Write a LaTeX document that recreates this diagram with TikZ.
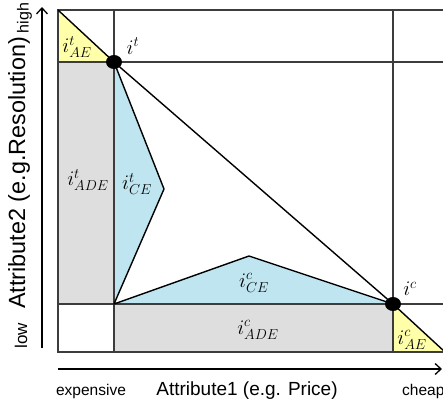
\documentclass[tikz,border=0pt]{standalone}
\usepackage{fontspec}
\setmainfont{Liberation Sans}
\usetikzlibrary{arrows.meta,shapes.geometric}
\definecolor{ylw}{RGB}{255,255,170}
\definecolor{blu}{RGB}{190,229,240}
\definecolor{gry}{RGB}{222,222,222}
\definecolor{gridc}{RGB}{60,60,60}
\begin{document}
\begin{tikzpicture}[x=1pt,y=-1pt,
  gridline/.style={draw=gridc, line width=1.1pt},
  edge/.style={draw=black, line width=1.4pt, line join=round},
  axis/.style={draw=black, line width=1.3pt, -{Straight Barb[length=6pt,width=11pt,line width=1.3pt]}},
  mlab/.style={font=\fontsize{22}{26}\selectfont, inner sep=0pt},
  dot/.style={shape=ellipse, fill=black, minimum width=16pt, minimum height=14pt, inner sep=0pt},
  smalltxt/.style={font=\fontsize{15.5}{18}\selectfont, inner sep=0pt},
  bigtxt/.style={font=\fontsize{19}{22}\selectfont, inner sep=0pt}]
\useasboundingbox (0,0) rectangle (443,399);
\clip (0,0) rectangle (443,399);
% key points
\coordinate (tl) at (58,10);
\coordinate (br) at (445,352);
\coordinate (pt) at (114,62);
\coordinate (pc) at (393,304);
\coordinate (o) at (114,304);
\coordinate (tipt) at (164,189);
\coordinate (tipc) at (249,256);
% fills
\fill[ylw] (tl) -- (58,62) -- (pt) -- cycle;
\fill[ylw] (pc) -- (393,352) -- (br) -- cycle;
\fill[gry] (58,62) rectangle (o);
\fill[gry] (o) rectangle (393,352);
\fill[blu] (pt) -- (tipt) -- (o) -- cycle;
\fill[blu] (o) -- (tipc) -- (pc) -- cycle;
% grid
\draw[gridline] (tl) rectangle (br);
\draw[gridline] (114,10) -- (114,352);
\draw[gridline] (393,10) -- (393,352);
\draw[gridline] (58,62) -- (445,62);
\draw[gridline] (58,304) -- (445,304);
% edges
\draw[edge] (tl) -- (pt);
\draw[edge] (pt) -- (tipt) -- (o) -- (tipc) -- (pc);
\draw[edge] (pt) -- (pc);
\draw[edge] (pc) -- (br);
% dots
\node[dot] (it) at (pt) {};
\node[dot] (ic) at (pc) {};
% axes
\coordinate (ya) at (42,348);
\coordinate (yb) at (42,7);
\coordinate (xa) at (58,369);
\coordinate (xb) at (442,369);
\draw[axis] (ya) -- (yb);
\draw[axis] (xa) -- (xb);
% axis labels
\node[smalltxt, anchor=base] (exp) at (91,395) {expensive};
\node[bigtxt, anchor=base] (a1) at (247,395) {Attribute1 (e.g. Price)};
\node[smalltxt, anchor=base west] (chp) at (402,395) {cheap};
\node[font=\fontsize{23.4}{26}\selectfont, inner sep=0pt, rotate=90, anchor=base] (a2) at (25,173) {Attribute2 (e.g.Resolution)};
\node[font=\fontsize{17}{20}\selectfont, inner sep=0pt, rotate=90, anchor=base] (low) at (27,336) {low};
\node[font=\fontsize{16}{19}\selectfont, inner sep=0pt, rotate=90, anchor=base] (high) at (28.5,18) {high};
% math labels
\node[mlab] (tae) at (77,47) {$i^{t}_{AE}$};
\node[mlab] (tl1) at (133,46) {$i^{t}$};
\node[mlab] (tade) at (88,180) {$i^{t}_{ADE}$};
\node[mlab] (tce) at (137,184) {$i^{t}_{CE}$};
\node[mlab] (cce) at (254,283) {$i^{c}_{CE}$};
\node[mlab] (cade) at (258,330) {$i^{c}_{ADE}$};
\node[mlab] (cl1) at (410,289) {$i^{c}$};
\node[mlab] (cae) at (412,340) {$i^{c}_{AE}$};
\end{tikzpicture}
\end{document}
